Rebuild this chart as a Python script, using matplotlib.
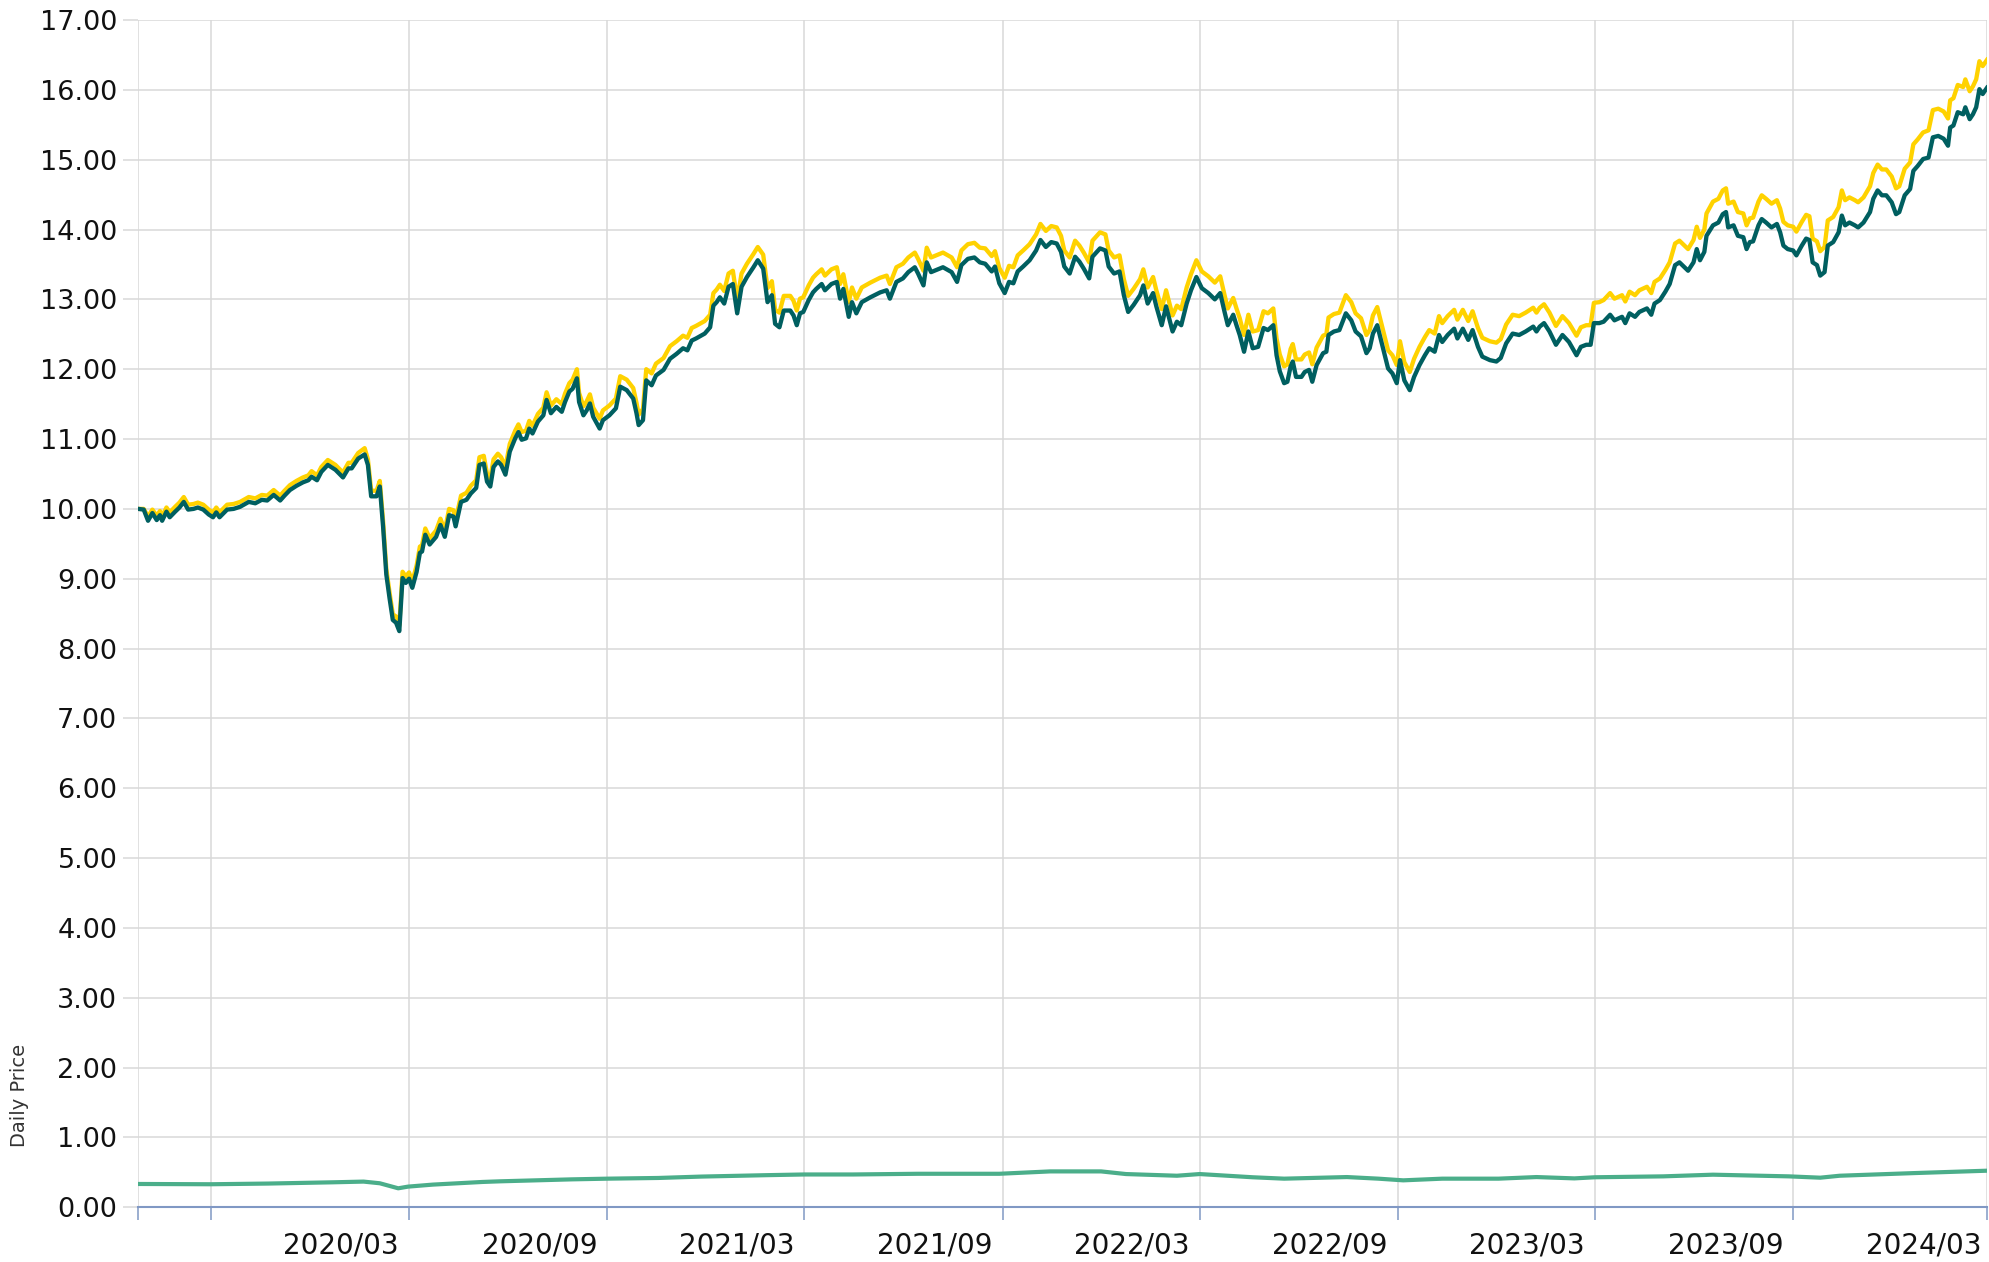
import matplotlib
matplotlib.use("Agg")
import matplotlib.pyplot as plt
import matplotlib.transforms as mtransforms
import pandas as pd

START = "2019-07-25"

# Fund price series (days since START, teal fund, gold fund)
days = [0, 5, 9, 13, 17, 20, 22, 26, 29, 34, 38, 42, 46, 51, 55, 60, 65, 69, 72, 75,
        82, 88, 94, 102, 108, 114, 119, 125, 131, 135, 140, 146, 152, 157, 160, 165, 169, 175, 182, 189,
        194, 197, 203, 209, 212, 215, 220, 223, 226, 229, 232, 235, 238, 241, 244, 247, 250, 253, 257, 260,
        262, 265, 269, 275, 279, 283, 287, 291, 293, 298, 303, 307, 312, 315, 319, 322, 325, 328, 332, 335,
        339, 343, 348, 351, 354, 358, 361, 364, 369, 374, 377, 381, 386, 391, 394, 398, 401, 405, 407, 411,
        414, 417, 420, 426, 429, 435, 441, 445, 451, 457, 460, 462, 466, 469, 474, 478, 485, 491, 497, 503,
        507, 511, 515, 523, 528, 531, 534, 537, 541, 545, 549, 553, 557, 562, 568, 572, 577, 581, 585, 588,
        592, 596, 602, 605, 608, 611, 614, 619, 623, 626, 631, 634, 640, 645, 648, 651, 656, 659, 663, 668,
        676, 685, 691, 694, 700, 706, 711, 717, 720, 725, 728, 732, 740, 743, 751, 756, 760, 766, 772, 777,
        782, 788, 791, 795, 800, 804, 808, 812, 817, 823, 829, 833, 838, 843, 848, 852, 855, 860, 865, 869,
        873, 878, 881, 888, 893, 896, 901, 906, 910, 914, 919, 925, 928, 932, 937, 940, 945, 949, 955, 959,
        963, 968, 972, 977, 982, 988, 994, 999, 1003, 1006, 1011, 1014, 1017, 1021, 1025, 1029, 1034, 1039, 1043, 1048,
        1051, 1054, 1058, 1061, 1064, 1066, 1069, 1074, 1077, 1081, 1084, 1088, 1094, 1097, 1099, 1104, 1109, 1115, 1120, 1124,
        1129, 1134, 1137, 1140, 1144, 1149, 1154, 1158, 1162, 1165, 1169, 1174, 1178, 1183, 1188, 1192, 1197, 1201, 1204, 1209,
        1215, 1218, 1223, 1228, 1232, 1237, 1241, 1248, 1254, 1258, 1263, 1269, 1275, 1281, 1288, 1291, 1294, 1298, 1303, 1309,
        1315, 1321, 1328, 1332, 1337, 1341, 1344, 1349, 1353, 1359, 1363, 1370, 1373, 1377, 1382, 1386, 1393, 1397, 1400, 1405,
        1410, 1414, 1419, 1423, 1431, 1436,
        1439, 1442, 1446, 1448, 1454, 1459, 1463, 1466, 1468, 1473, 1477, 1482, 1485, 1488, 1491, 1496, 1499, 1503, 1508, 1513,
        1516, 1519, 1523, 1528, 1531, 1536, 1540, 1543, 1546, 1550, 1553, 1557, 1560, 1565, 1570, 1573, 1576, 1580, 1585, 1588,
        1593, 1599, 1602, 1606, 1610, 1614, 1619, 1623, 1626, 1631, 1636, 1639, 1643, 1648, 1653, 1657, 1662, 1667, 1671, 1673,
        1676, 1680, 1685, 1687, 1691, 1694, 1697, 1700, 1703, 1707]

teal = [10.00, 9.99, 9.83, 9.94, 9.84, 9.91, 9.83, 9.96, 9.88, 9.96, 10.02, 10.10, 9.99, 10.00, 10.02, 9.99, 9.92, 9.88, 9.95, 9.88,
        9.99, 10.00, 10.03, 10.10, 10.08, 10.13, 10.12, 10.20, 10.12, 10.19, 10.27, 10.33, 10.38, 10.41, 10.46, 10.41, 10.53, 10.63, 10.56, 10.45,
        10.58, 10.58, 10.72, 10.78, 10.63, 10.18, 10.18, 10.32, 9.75, 9.06, 8.72, 8.41, 8.37, 8.25, 9.01, 8.94, 9.00, 8.87, 9.10, 9.37,
        9.39, 9.63, 9.49, 9.60, 9.77, 9.60, 9.91, 9.89, 9.75, 10.10, 10.13, 10.22, 10.30, 10.63, 10.65, 10.39, 10.32, 10.60, 10.68, 10.63,
        10.49, 10.82, 11.01, 11.10, 10.99, 11.01, 11.15, 11.08, 11.25, 11.34, 11.56, 11.37, 11.46, 11.39, 11.53, 11.68, 11.72, 11.87, 11.53, 11.34,
        11.41, 11.51, 11.32, 11.15, 11.27, 11.34, 11.44, 11.75, 11.70, 11.58, 11.37, 11.20, 11.27, 11.84, 11.77, 11.91, 11.99, 12.15, 12.22, 12.30,
        12.27, 12.41, 12.44, 12.51, 12.60, 12.91, 12.96, 13.03, 12.94, 13.18, 13.22, 12.80, 13.18, 13.32, 13.46, 13.56, 13.44, 12.96, 13.06, 12.65,
        12.60, 12.84, 12.84, 12.77, 12.63, 12.80, 12.82, 12.99, 13.10, 13.15, 13.22, 13.13, 13.22, 13.25, 13.01, 13.15, 12.75, 12.96, 12.80, 12.96,
        13.03, 13.10, 13.13, 13.01, 13.25, 13.30, 13.39, 13.46, 13.37, 13.20, 13.53, 13.39, 13.44, 13.46, 13.39, 13.25, 13.49, 13.58, 13.60, 13.53,
        13.51, 13.40, 13.47, 13.23, 13.09, 13.25, 13.23, 13.40, 13.47, 13.56, 13.70, 13.85, 13.75, 13.82, 13.80, 13.68, 13.47, 13.37, 13.61, 13.54,
        13.44, 13.30, 13.61, 13.73, 13.70, 13.47, 13.37, 13.40, 13.06, 12.82, 12.92, 13.06, 13.20, 12.94, 13.09, 12.90, 12.63, 12.90, 12.54, 12.68,
        12.63, 12.94, 13.13, 13.32, 13.16, 13.09, 13.00, 13.09, 12.82, 12.63, 12.78, 12.63, 12.49, 12.25, 12.54, 12.30, 12.32, 12.59, 12.56, 12.63,
        12.20, 11.97, 11.80, 11.82, 12.04, 12.11, 11.89, 11.89, 11.96, 11.99, 11.82, 12.06, 12.23, 12.25, 12.49, 12.54, 12.56, 12.80, 12.70, 12.54,
        12.47, 12.23, 12.30, 12.51, 12.63, 12.32, 12.01, 11.94, 11.80, 12.13, 11.84, 11.70, 11.89, 12.06, 12.20, 12.30, 12.25, 12.49, 12.39, 12.49,
        12.58, 12.44, 12.58, 12.42, 12.56, 12.32, 12.18, 12.13, 12.11, 12.16, 12.37, 12.51, 12.49, 12.54, 12.61, 12.54, 12.61, 12.66, 12.54, 12.35,
        12.49, 12.39, 12.20, 12.32, 12.35, 12.35, 12.66, 12.66, 12.68, 12.78, 12.70, 12.75, 12.66, 12.80, 12.75, 12.82, 12.87, 12.78, 12.94, 12.99,
        13.11, 13.22, 13.49, 13.53, 13.41, 13.53,
        13.72, 13.56, 13.68, 13.91, 14.06, 14.10, 14.22, 14.25, 14.03, 14.06, 13.91, 13.89, 13.72, 13.82, 13.83, 14.06, 14.15, 14.10, 14.03, 14.08,
        13.96, 13.77, 13.72, 13.70, 13.63, 13.77, 13.87, 13.85, 13.53, 13.49, 13.34, 13.39, 13.77, 13.82, 13.96, 14.20, 14.06, 14.10, 14.06, 14.03,
        14.10, 14.25, 14.44, 14.56, 14.49, 14.49, 14.39, 14.22, 14.25, 14.49, 14.58, 14.84, 14.91, 15.01, 15.03, 15.32, 15.34, 15.30, 15.20, 15.46,
        15.49, 15.68, 15.65, 15.75, 15.58, 15.65, 15.75, 16.01, 15.94, 16.03]

gold = [10.00, 10.00, 9.89, 9.99, 9.90, 9.97, 9.89, 10.02, 9.95, 10.03, 10.09, 10.17, 10.06, 10.07, 10.09, 10.06, 9.99, 9.95, 10.02, 9.95,
        10.06, 10.07, 10.10, 10.17, 10.15, 10.20, 10.19, 10.27, 10.19, 10.26, 10.34, 10.40, 10.45, 10.48, 10.54, 10.48, 10.60, 10.70, 10.63, 10.52,
        10.66, 10.66, 10.80, 10.87, 10.71, 10.26, 10.26, 10.40, 9.83, 9.14, 8.80, 8.49, 8.46, 8.33, 9.10, 9.03, 9.09, 8.96, 9.19, 9.46,
        9.48, 9.72, 9.58, 9.69, 9.86, 9.69, 10.00, 9.98, 9.84, 10.19, 10.23, 10.33, 10.41, 10.74, 10.76, 10.50, 10.43, 10.71, 10.79, 10.74,
        10.60, 10.93, 11.12, 11.21, 11.10, 11.12, 11.26, 11.19, 11.36, 11.45, 11.67, 11.48, 11.57, 11.50, 11.65, 11.80, 11.85, 12.00, 11.66, 11.47,
        11.54, 11.64, 11.45, 11.29, 11.41, 11.48, 11.58, 11.90, 11.85, 11.73, 11.52, 11.35, 11.43, 12.00, 11.94, 12.08, 12.16, 12.33, 12.40, 12.48,
        12.45, 12.59, 12.62, 12.69, 12.78, 13.09, 13.14, 13.21, 13.12, 13.37, 13.41, 12.99, 13.37, 13.51, 13.65, 13.75, 13.64, 13.16, 13.26, 12.85,
        12.81, 13.05, 13.05, 12.98, 12.84, 13.01, 13.03, 13.20, 13.31, 13.36, 13.43, 13.34, 13.43, 13.46, 13.22, 13.36, 12.96, 13.17, 13.01, 13.17,
        13.24, 13.31, 13.34, 13.22, 13.46, 13.51, 13.60, 13.67, 13.58, 13.41, 13.74, 13.60, 13.65, 13.67, 13.60, 13.46, 13.70, 13.79, 13.81, 13.74,
        13.73, 13.62, 13.69, 13.45, 13.31, 13.48, 13.46, 13.63, 13.70, 13.79, 13.93, 14.08, 13.98, 14.05, 14.03, 13.91, 13.70, 13.60, 13.84, 13.77,
        13.67, 13.53, 13.84, 13.96, 13.93, 13.70, 13.60, 13.63, 13.29, 13.05, 13.15, 13.29, 13.43, 13.17, 13.32, 13.13, 12.86, 13.13, 12.77, 12.91,
        12.86, 13.17, 13.36, 13.56, 13.40, 13.33, 13.24, 13.33, 13.06, 12.87, 13.02, 12.87, 12.73, 12.49, 12.78, 12.54, 12.56, 12.83, 12.80, 12.87,
        12.44, 12.21, 12.04, 12.07, 12.29, 12.36, 12.14, 12.14, 12.21, 12.24, 12.07, 12.31, 12.48, 12.50, 12.74, 12.79, 12.81, 13.06, 12.96, 12.80,
        12.73, 12.49, 12.56, 12.77, 12.89, 12.58, 12.27, 12.20, 12.06, 12.40, 12.10, 11.96, 12.15, 12.32, 12.46, 12.56, 12.51, 12.76, 12.66, 12.76,
        12.85, 12.71, 12.85, 12.69, 12.83, 12.59, 12.45, 12.40, 12.38, 12.43, 12.64, 12.78, 12.76, 12.81, 12.88, 12.81, 12.88, 12.93, 12.81, 12.62,
        12.76, 12.66, 12.48, 12.60, 12.63, 12.63, 12.95, 12.96, 12.99, 13.09, 13.01, 13.06, 12.97, 13.11, 13.06, 13.13, 13.18, 13.09, 13.25, 13.30,
        13.42, 13.53, 13.80, 13.84, 13.72, 13.85,
        14.04, 13.88, 14.00, 14.23, 14.40, 14.44, 14.56, 14.59, 14.37, 14.40, 14.25, 14.23, 14.06, 14.16, 14.17, 14.40, 14.49, 14.44, 14.37, 14.42,
        14.30, 14.11, 14.06, 14.04, 13.97, 14.11, 14.21, 14.19, 13.87, 13.83, 13.69, 13.75, 14.13, 14.18, 14.32, 14.56, 14.42, 14.46, 14.42, 14.39,
        14.46, 14.62, 14.81, 14.93, 14.86, 14.86, 14.76, 14.59, 14.62, 14.87, 14.96, 15.22, 15.29, 15.39, 15.42, 15.71, 15.73, 15.69, 15.59, 15.85,
        15.88, 16.07, 16.04, 16.15, 15.98, 16.05, 16.15, 16.41, 16.34, 16.43]

# Low-priced series (days since START, value)
green_days = [0, 67, 120, 180, 208, 223, 240, 249, 272, 318, 334, 400, 433, 480, 520, 580, 615, 660, 720, 795,
              842, 889, 912, 959, 980, 1029, 1058, 1116, 1145, 1168, 1204, 1256, 1291, 1326, 1345, 1408, 1454, 1524, 1553, 1571,
              1640, 1707]
green = [0.334, 0.330, 0.340, 0.358, 0.368, 0.344, 0.272, 0.296, 0.325, 0.363, 0.372, 0.400, 0.410, 0.420, 0.440, 0.460, 0.470, 0.470, 0.480, 0.480,
         0.514, 0.514, 0.476, 0.452, 0.476, 0.430, 0.410, 0.433, 0.410, 0.386, 0.410, 0.410, 0.433, 0.414, 0.430, 0.443, 0.467, 0.443, 0.424, 0.452,
         0.490, 0.524]

tick_dates = ["2019-09-30", "2020-03-31", "2020-09-30", "2021-03-31", "2021-09-30",
              "2022-03-31", "2022-09-30", "2023-03-31", "2023-09-30"]
label_dates = ["2020-03-31", "2020-09-30", "2021-03-31", "2021-09-30", "2022-03-31",
               "2022-09-30", "2023-03-31", "2023-09-30", "2024-03-31"]
labels = ["2020/03", "2020/09", "2021/03", "2021/09", "2022/03",
          "2022/09", "2023/03", "2023/09", "2024/03"]
y_ticks = list(range(0, 18))

start = pd.Timestamp(START)
x = start + pd.to_timedelta(days, unit="D")
xg = start + pd.to_timedelta(green_days, unit="D")

plt.rcParams["font.family"] = ["DejaVu Sans"]

W, H = 1990, 1262
fig = plt.figure(figsize=(W / 100, H / 100), dpi=100)
left, right, top, bottom = 138.3, 1987, 20.0, 1207.3
ax = fig.add_axes([left / W, 1 - bottom / H, (right - left) / W, (bottom - top) / H])

GRID = "#d9d9d9"
AXIS = "#8098c4"
ax.set_ylim(0, 17)
ax.set_xlim(x[0], x[-1])

ax.plot(x, gold, color="#FFD200", lw=3.1, solid_joinstyle="round", zorder=3)
ax.plot(x, teal, color="#005F60", lw=3.1, solid_joinstyle="round", zorder=4)
ax.plot(xg, green, color="#4BAE8A", lw=3.0, solid_joinstyle="round", zorder=3)

# y axis
ax.set_yticks(y_ticks)
ax.set_yticklabels([f"{v:.2f}" for v in y_ticks])
ax.tick_params(axis="y", length=10.8, width=1.1, color=GRID, pad=4.3,
               labelsize=19.5, labelcolor="#111111")
ax.grid(axis="y", color=GRID, lw=1.1, zorder=0)

# x axis
xt = [x[0]] + list(pd.to_datetime(tick_dates)) + [x[-1]]
ax.set_xticks(xt)
ax.set_xticklabels([""] * len(xt))
ax.tick_params(axis="x", length=9.4, width=1.1, color=AXIS, direction="out")
for d in xt:
    ax.axvline(d, color=GRID, lw=1.1, zorder=0)

trans = mtransforms.blended_transform_factory(ax.transData, ax.transAxes)
trans = trans + mtransforms.ScaledTranslation(-10 / 100, 0, fig.dpi_scale_trans)
for d, lab in zip(pd.to_datetime(label_dates), labels):
    ax.text(d, -0.0325, lab, transform=trans, ha="right", va="center",
            fontsize=20, color="#111111", clip_on=False)

for s in ["top", "right", "left"]:
    ax.spines[s].set_visible(False)
ax.spines["bottom"].set_color(AXIS)
ax.spines["bottom"].set_linewidth(1.5)
ax.spines["bottom"].set_zorder(5)

fig.text(20 / W, 1 - 1095 / H, "Daily Price", rotation=90, ha="center", va="center",
         fontsize=14, color="#333333")

fig.savefig("out.png", dpi=100)
